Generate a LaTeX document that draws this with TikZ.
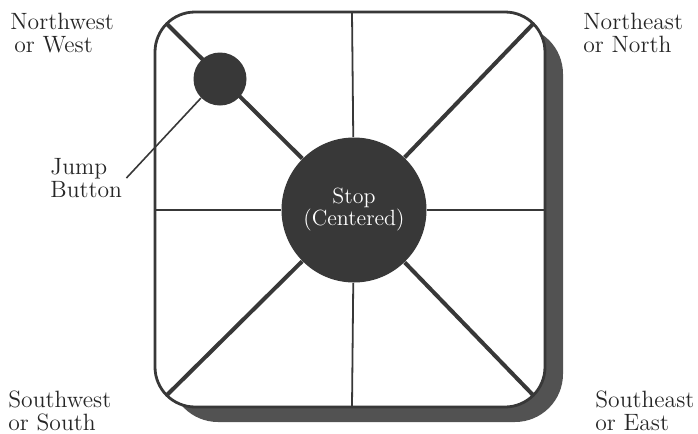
\documentclass[tikz,border=0pt]{standalone}
\usepackage{xcolor}
\definecolor{padInk}{gray}{0.22}
\definecolor{padShade}{gray}{0.32}
\definecolor{padText}{gray}{0.15}
\usepackage{tikz}
\usetikzlibrary{positioning}

\tikzset{
  dirlabel/.style={anchor=north west, align=left, inner sep=0pt, text=padText,
    font=\fontsize{11.8}{11.5}\selectfont},
  knob/.style={circle, fill=padInk, inner sep=0pt},
}

\begin{document}
\begin{tikzpicture}[x=0.5pt, y=-0.5pt]
  \useasboundingbox (0,0) rectangle (698,434);
  % ------- pad frame -------
  \fill[padShade, rounded corners=24pt] (170,26) rectangle (563,422);
  \draw[padInk, line width=1.4pt, fill=white, rounded corners=20pt] (155,12) rectangle (545,407);
  % ends of the spokes on the frame
  \coordinate (n) at (352,12);
  \coordinate (s) at (352,407);
  \coordinate (w) at (155,210);
  \coordinate (e) at (545,210);
  \coordinate (nw) at (166.7,23.7);
  \coordinate (ne) at (533.3,23.7);
  \coordinate (sw) at (166.7,395.3);
  \coordinate (se) at (533.3,395.3);
  % ------- centre knob and spokes -------
  \node[knob, minimum size=72.5pt, text=white, align=center,
        font=\fontsize{11}{11}\selectfont] (stop) at (354,210) {Stop\\(Centered)};
  \foreach \c in {n,s,w,e}
    \draw[padInk, line width=0.9pt] (\c) -- (stop);
  \foreach \c in {nw,ne,sw,se}
    \draw[padInk, line width=2pt] (\c) -- (stop);
  % ------- jump button -------
  \node[knob, minimum size=26.5pt] (jump) at (220,79) {};
  \node[dirlabel] (jumplbl) at (50,158) {Jump\\Button};
  \draw[padInk, line width=0.8pt] (jump.225) -- ([xshift=2pt]jumplbl.east);
  % ------- direction labels -------
  \node[dirlabel] (nwlbl) at (10,13) {Northwest\\\hspace{2pt}or West};
  \node[dirlabel] (nelbl) at (583,13) {Northeast\\or North};
  \node[dirlabel] (swlbl) at (8,390) {Southwest\\or South};
  \node[dirlabel] (selbl) at (595,390) {Southeast\\or East};
\end{tikzpicture}
\end{document}
